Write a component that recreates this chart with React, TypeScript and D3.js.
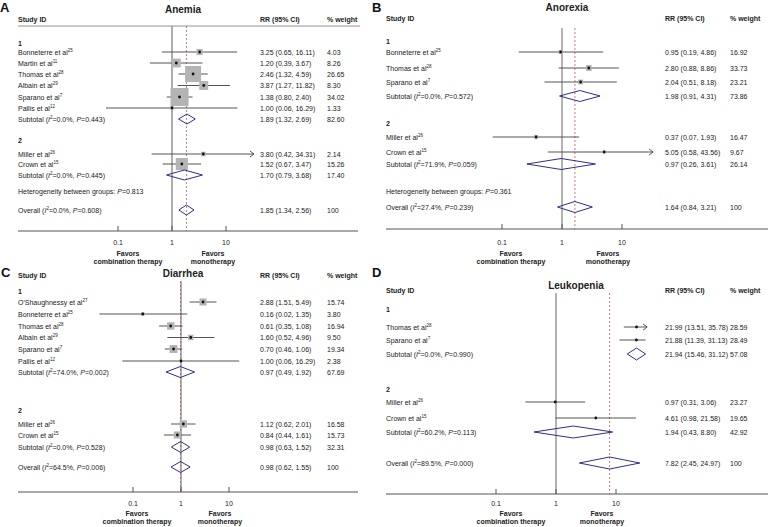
import React from "react";
import * as d3 from "d3";

const W = 770;
const H = 527;

// ---------- Shared ----------
const xTicks = [0.1, 1, 10];
const xTickLabels = ["0.1", "1", "10"];
const favorsLeft = ["Favors", "combination therapy"];
const favorsRight = ["Favors", "monotherapy"];
const headers = ["Study ID", "RR (95% CI)", "% weight"];
const clipRange = [0.015, 33];

// ---------- A: Anemia ----------
const anemiaStudy = ["Bonneterre et al", "Martin et al", "Thomas et al", "Albain et al", "Sparano et al", "Pallis et al", "Miller et al", "Crown et al"];
const anemiaRef = ["25", "11", "28", "29", "7", "12", "26", "15"];
const anemiaGroup = [1, 1, 1, 1, 1, 1, 2, 2];
const anemiaRR = [3.25, 1.2, 2.46, 3.87, 1.38, 1.0, 3.8, 1.52];
const anemiaLo = [0.65, 0.39, 1.32, 1.27, 0.8, 0.06, 0.42, 0.67];
const anemiaHi = [16.11, 3.67, 4.59, 11.82, 2.4, 16.29, 34.31, 3.47];
const anemiaWt = [4.03, 8.26, 26.65, 8.3, 34.02, 1.33, 2.14, 15.26];
const anemiaSubRR = [1.89, 1.7];
const anemiaSubLo = [1.32, 0.79];
const anemiaSubHi = [2.69, 3.68];
const anemiaSubWt = [82.6, 17.4];
const anemiaSubI2 = [0.0, 0.0];
const anemiaSubP = [0.443, 0.445];
const anemiaOverall = [1.85, 1.34, 2.56];
const anemiaOverallStats = [0.0, 0.608];
const anemiaHetP = 0.813;

// ---------- B: Anorexia ----------
const anorexiaStudy = ["Bonneterre et al", "Thomas et al", "Sparano et al", "Miller et al", "Crown et al"];
const anorexiaRef = ["25", "28", "7", "26", "15"];
const anorexiaGroup = [1, 1, 1, 2, 2];
const anorexiaRR = [0.95, 2.8, 2.04, 0.37, 5.05];
const anorexiaLo = [0.19, 0.88, 0.51, 0.07, 0.58];
const anorexiaHi = [4.86, 8.86, 8.18, 1.93, 43.56];
const anorexiaWt = [16.92, 33.73, 23.21, 16.47, 9.67];
const anorexiaSubRR = [1.98, 0.97];
const anorexiaSubLo = [0.91, 0.26];
const anorexiaSubHi = [4.31, 3.61];
const anorexiaSubWt = [73.86, 26.14];
const anorexiaSubI2 = [0.0, 71.9];
const anorexiaSubP = [0.572, 0.059];
const anorexiaOverall = [1.64, 0.84, 3.21];
const anorexiaOverallStats = [27.4, 0.239];
const anorexiaHetP = 0.361;

// ---------- C: Diarrhea ----------
const diarrheaStudy = ["O'Shaughnessy et al", "Bonneterre et al", "Thomas et al", "Albain et al", "Sparano et al", "Pallis et al", "Miller et al", "Crown et al"];
const diarrheaRef = ["27", "25", "28", "29", "7", "12", "26", "15"];
const diarrheaGroup = [1, 1, 1, 1, 1, 1, 2, 2];
const diarrheaRR = [2.88, 0.16, 0.61, 1.6, 0.7, 1.0, 1.12, 0.84];
const diarrheaLo = [1.51, 0.02, 0.35, 0.52, 0.46, 0.06, 0.62, 0.44];
const diarrheaHi = [5.49, 1.35, 1.08, 4.96, 1.06, 16.29, 2.01, 1.61];
const diarrheaWt = [15.74, 3.8, 16.94, 9.5, 19.34, 2.38, 16.58, 15.73];
const diarrheaSubRR = [0.97, 0.98];
const diarrheaSubLo = [0.49, 0.63];
const diarrheaSubHi = [1.92, 1.52];
const diarrheaSubWt = [67.69, 32.31];
const diarrheaSubI2 = [74.0, 0.0];
const diarrheaSubP = [0.002, 0.528];
const diarrheaOverall = [0.98, 0.62, 1.55];
const diarrheaOverallStats = [64.5, 0.006];
const diarrheaHetP = null;

// ---------- D: Leukopenia ----------
const leukoStudy = ["Thomas et al", "Sparano et al", "Miller et al", "Crown et al"];
const leukoRef = ["28", "7", "26", "15"];
const leukoGroup = [1, 1, 2, 2];
const leukoRR = [21.99, 21.88, 0.97, 4.61];
const leukoLo = [13.51, 11.39, 0.31, 0.98];
const leukoHi = [35.78, 31.13, 3.06, 21.58];
const leukoWt = [28.59, 28.49, 23.27, 19.65];
const leukoSubRR = [21.94, 1.94];
const leukoSubLo = [15.46, 0.43];
const leukoSubHi = [31.12, 8.8];
const leukoSubWt = [57.08, 42.92];
const leukoSubI2 = [0.0, 60.2];
const leukoSubP = [0.99, 0.113];
const leukoOverall = [7.82, 2.45, 24.97];
const leukoOverallStats = [89.5, 0.0];
const leukoHetP = null;

function build(study, ref, group, rr, lo, hi, wt, subRR, subLo, subHi, subWt, subI2, subP, overall, overallStats, hetP) {
  return {
    studies: study.map((s, i) => ({ label: s, ref: ref[i], group: group[i], rr: rr[i], lo: lo[i], hi: hi[i], wt: wt[i] })),
    subs: subRR.map((r, i) => ({ rr: r, lo: subLo[i], hi: subHi[i], wt: subWt[i], i2: subI2[i], p: subP[i] })),
    overall: { rr: overall[0], lo: overall[1], hi: overall[2], i2: overallStats[0], p: overallStats[1] },
    hetP,
  };
}

const panels = [
  {
    data: build(anemiaStudy, anemiaRef, anemiaGroup, anemiaRR, anemiaLo, anemiaHi, anemiaWt, anemiaSubRR, anemiaSubLo, anemiaSubHi, anemiaSubWt, anemiaSubI2, anemiaSubP, anemiaOverall, anemiaOverallStats, anemiaHetP),
    L: {
      letter: "A", letterX: 0, letterY: 12, title: "Anemia", titleX: 183, titleY: 12.5,
      headerY: 21.5, studyX: 18, rrX: 260, wtX: 327, headerLine: [18, 360, 26],
      x01: 118, x10: 226, refTop: 26, refW: 1.6, refColor: "#999", axisY: 231, axisX0: 18, axisX1: 358,
      groupY: [43, 140], studyY: [52, 63, 74, 85.5, 97, 108, 154, 164], subY: [119, 175],
      hetY: 191, overallY: 210, tickY: 245, favY: 256, favY2: 264, favL: 128, favR: 213,
      boxK: 3.1, dH: 5,
    },
  },
  {
    data: build(anorexiaStudy, anorexiaRef, anorexiaGroup, anorexiaRR, anorexiaLo, anorexiaHi, anorexiaWt, anorexiaSubRR, anorexiaSubLo, anorexiaSubHi, anorexiaSubWt, anorexiaSubI2, anorexiaSubP, anorexiaOverall, anorexiaOverallStats, anorexiaHetP),
    L: {
      letter: "B", letterX: 372, letterY: 12, title: "Anorexia", titleX: 567, titleY: 11,
      headerY: 20.5, studyX: 386, rrX: 665, wtX: 730, headerLine: null,
      x01: 502, x10: 622, refTop: 28, refW: 1, refColor: "#666", axisY: 229, axisX0: 386, axisX1: 768,
      groupY: [41, 123], studyY: [52, 68, 82, 137, 152], subY: [96, 164],
      hetY: 191, overallY: 207, tickY: 245, favY: 256, favY2: 264, favL: 511, favR: 608,
      boxK: 1.0, dH: 5.5,
    },
  },
  {
    data: build(diarrheaStudy, diarrheaRef, diarrheaGroup, diarrheaRR, diarrheaLo, diarrheaHi, diarrheaWt, diarrheaSubRR, diarrheaSubLo, diarrheaSubHi, diarrheaSubWt, diarrheaSubI2, diarrheaSubP, diarrheaOverall, diarrheaOverallStats, diarrheaHetP),
    L: {
      letter: "C", letterX: 1, letterY: 277, title: "Diarrhea", titleX: 183, titleY: 276.5,
      headerY: 277.5, studyX: 18, rrX: 260, wtX: 327, headerLine: null,
      x01: 133, x10: 229, refTop: 281, refW: 1, refColor: "#666", axisY: 492, axisX0: 18, axisX1: 358,
      groupY: [291, 410], studyY: [302, 314, 326, 337.5, 349, 361, 424, 435], subY: [372, 447],
      hetY: null, overallY: 467, tickY: 506, favY: 516, favY2: 524, favL: 137, favR: 220,
      boxK: 1.8, dH: 5.5,
    },
  },
  {
    data: build(leukoStudy, leukoRef, leukoGroup, leukoRR, leukoLo, leukoHi, leukoWt, leukoSubRR, leukoSubLo, leukoSubHi, leukoSubWt, leukoSubI2, leukoSubP, leukoOverall, leukoOverallStats, leukoHetP),
    L: {
      letter: "D", letterX: 372, letterY: 277, title: "Leukopenia", titleX: 576, titleY: 288.5,
      headerY: 292.5, studyX: 386, rrX: 665, wtX: 730, headerLine: null,
      x01: 496, x10: 616, refTop: 293, refW: 1, refColor: "#666", axisY: 494, axisX0: 386, axisX1: 768,
      groupY: [309, 389], studyY: [327, 340, 402, 418], subY: [354, 432],
      hetY: null, overallY: 463, tickY: 506, favY: 516, favY2: 524, favL: 511, favR: 602,
      boxK: 0.4, dH: 6,
    },
  },
];

const FONT = "'Liberation Sans', Arial, Helvetica, sans-serif";
const TXT = "#222";
const FS = 7;
const SUP = 4.5;
const f2 = (v) => v.toFixed(2);
const ciText = (r, lo, hi) => `${f2(r)} (${f2(lo)}, ${f2(hi)})`;

function StatLabel({ x, y, prefix, i2, p }) {
  return (
    <text x={x} y={y} fontSize={FS} fill={TXT}>
      <tspan>{prefix + " ("}</tspan>
      <tspan fontStyle="italic">I</tspan>
      <tspan fontSize={SUP} dy={-2.6}>2</tspan>
      <tspan dy={2.6}>{"=" + i2.toFixed(1) + "%, "}</tspan>
      <tspan fontStyle="italic">P</tspan>
      <tspan>{"=" + p.toFixed(3) + ")"}</tspan>
    </text>
  );
}

function Diamond({ x, y, d, h }) {
  const path = d3.path();
  path.moveTo(x(d.lo), y);
  path.lineTo(x(d.rr), y - h);
  path.lineTo(x(d.hi), y);
  path.lineTo(x(d.rr), y + h);
  path.closePath();
  return <path d={path.toString()} fill="none" stroke="#2d2f8f" strokeWidth={1} />;
}

function Panel({ data, L }) {
  const x = d3.scaleLog().domain([0.1, 10]).range([L.x01, L.x10]);
  const b = 2.5; // baseline offset from row centre
  const groupIds = Array.from(new Set(data.studies.map((s) => s.group)));
  const overallX = x(data.overall.rr);
  return (
    <g fontFamily={FONT}>
      <text x={L.letterX} y={L.letterY} fontSize={13} fontWeight="bold" fill="#111">{L.letter}</text>
      <text x={L.titleX} y={L.titleY} fontSize={10} fontWeight="bold" fill={TXT} textAnchor="middle">{L.title}</text>
      <text x={L.studyX} y={L.headerY} fontSize={FS} fontWeight="bold" fill={TXT}>{headers[0]}</text>
      <text x={L.rrX} y={L.headerY} fontSize={FS} fontWeight="bold" fill={TXT}>{headers[1]}</text>
      <text x={L.wtX} y={L.headerY} fontSize={FS} fontWeight="bold" fill={TXT}>{headers[2]}</text>
      {L.headerLine && (
        <line x1={L.headerLine[0]} x2={L.headerLine[1]} y1={L.headerLine[2]} y2={L.headerLine[2]} stroke="#777" strokeWidth={0.8} />
      )}
      {/* reference lines */}
      <line x1={x(1)} x2={x(1)} y1={L.refTop} y2={L.axisY} stroke={L.refColor} strokeWidth={L.refW} />
      <line x1={overallX} x2={overallX} y1={L.refTop} y2={L.axisY} stroke="#b5585b" strokeWidth={0.8} strokeDasharray="2,2" />
      {/* axis */}
      <line x1={L.axisX0} x2={L.axisX1} y1={L.axisY} y2={L.axisY} stroke="#555" strokeWidth={1} />
      {xTicks.map((t, i) => (
        <g key={"t" + i}>
          <line x1={x(t)} x2={x(t)} y1={L.axisY} y2={L.axisY - 5} stroke="#555" strokeWidth={1} />
          <text x={x(t)} y={L.tickY} fontSize={FS} fill={TXT} textAnchor="middle">{xTickLabels[i]}</text>
        </g>
      ))}
      <text x={L.favL} y={L.favY} fontSize={FS} fontWeight="bold" fill={TXT} textAnchor="middle">{favorsLeft[0]}</text>
      <text x={L.favL} y={L.favY2} fontSize={FS} fontWeight="bold" fill={TXT} textAnchor="middle">{favorsLeft[1]}</text>
      <text x={L.favR} y={L.favY} fontSize={FS} fontWeight="bold" fill={TXT} textAnchor="middle">{favorsRight[0]}</text>
      <text x={L.favR} y={L.favY2} fontSize={FS} fontWeight="bold" fill={TXT} textAnchor="middle">{favorsRight[1]}</text>
      {/* group labels */}
      {groupIds.map((g, gi) => (
        <text key={"g" + g} x={L.studyX} y={L.groupY[gi] + b} fontSize={FS} fontWeight="bold" fill={TXT}>{String(g)}</text>
      ))}
      {/* studies */}
      {data.studies.map((s, i) => {
        const y = L.studyY[i];
        const loC = Math.max(s.lo, clipRange[0]);
        const hiC = Math.min(s.hi, clipRange[1]);
        const x0 = x(loC);
        const x1 = x(hiC);
        const side = L.boxK * Math.sqrt(s.wt);
        const cx = x(s.rr);
        return (
          <g key={"s" + i}>
            <text x={L.studyX} y={y + b} fontSize={FS} fill={TXT}>
              <tspan>{s.label}</tspan>
              <tspan fontSize={SUP} dy={-2.8}>{s.ref}</tspan>
            </text>
            <line x1={x0} x2={x1} y1={y} y2={y} stroke="#555" strokeWidth={1} />
            {s.hi > clipRange[1] && (
              <path d={`M${x1 - 4},${y - 3}L${x1},${y}L${x1 - 4},${y + 3}`} fill="none" stroke="#555" strokeWidth={1} />
            )}
            {s.lo < clipRange[0] && (
              <path d={`M${x0 + 4},${y - 3}L${x0},${y}L${x0 + 4},${y + 3}`} fill="none" stroke="#555" strokeWidth={1} />
            )}
            <rect x={cx - side / 2} y={y - side / 2} width={side} height={side} fill="#b4b4b4" />
            <circle cx={cx} cy={y} r={1.4} fill="#111" />
            <text x={L.rrX} y={y + b} fontSize={FS} fill={TXT}>{ciText(s.rr, s.lo, s.hi)}</text>
            <text x={L.wtX} y={y + b} fontSize={FS} fill={TXT}>{f2(s.wt)}</text>
          </g>
        );
      })}
      {/* subtotals */}
      {data.subs.map((d, i) => {
        const y = L.subY[i];
        return (
          <g key={"sub" + i}>
            <StatLabel x={L.studyX} y={y + b} prefix="Subtotal" i2={d.i2} p={d.p} />
            <Diamond x={x} y={y} d={d} h={L.dH} />
            <text x={L.rrX} y={y + b} fontSize={FS} fill={TXT}>{ciText(d.rr, d.lo, d.hi)}</text>
            <text x={L.wtX} y={y + b} fontSize={FS} fill={TXT}>{f2(d.wt)}</text>
          </g>
        );
      })}
      {data.hetP !== null && L.hetY !== null && (
        <text x={L.studyX} y={L.hetY + b} fontSize={FS} fill={TXT}>
          <tspan>{"Heterogeneity between groups: "}</tspan>
          <tspan fontStyle="italic">P</tspan>
          <tspan>{"=" + data.hetP.toFixed(3)}</tspan>
        </text>
      )}
      <g>
        <StatLabel x={L.studyX} y={L.overallY + b} prefix="Overall" i2={data.overall.i2} p={data.overall.p} />
        <Diamond x={x} y={L.overallY} d={data.overall} h={L.dH} />
        <text x={L.rrX} y={L.overallY + b} fontSize={FS} fill={TXT}>{ciText(data.overall.rr, data.overall.lo, data.overall.hi)}</text>
        <text x={L.wtX} y={L.overallY + b} fontSize={FS} fill={TXT}>100</text>
      </g>
    </g>
  );
}

export default function App() {
  return (
    <svg width={W} height={H} viewBox={`0 0 ${W} ${H}`} style={{ position: "absolute", left: 0, top: 0, background: "#fff" }}>
      <rect width={W} height={H} fill="#fff" />
      {panels.map((p, i) => (
        <Panel key={i} data={p.data} L={p.L} />
      ))}
    </svg>
  );
}
